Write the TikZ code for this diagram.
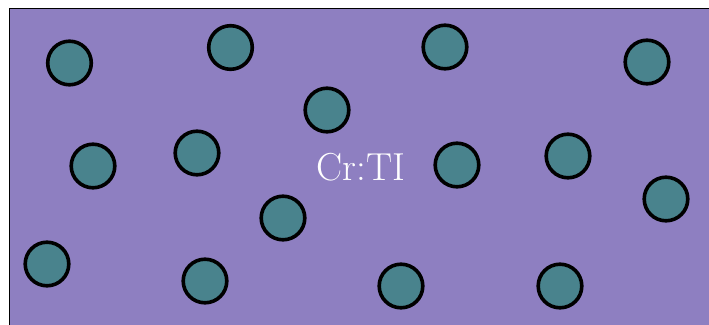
\documentclass[tikz,border=0pt]{standalone}
\definecolor{bgpurple}{RGB}{142,127,193}
\definecolor{dotteal}{RGB}{73,131,141}
\begin{document}
\begin{tikzpicture}[x=1pt,y=-1pt,
  dot/.style={circle,draw=black,fill=dotteal,line width=3.6pt,minimum size=43.6pt,inner sep=0pt},
  lbl/.style={text=white,font=\fontsize{39}{43}\selectfont,inner sep=0pt}]
\useasboundingbox (0,0) rectangle (709,324);
\clip (0,0) rectangle (709,324);
\draw[fill=bgpurple,draw=black,line width=1.6pt] (9.5,8.5) rectangle (730,340);
\node[dot] (c1) at (69.5,63) {};
\node[dot] (c2) at (230.5,47.5) {};
\node[dot] (c3) at (445,47) {};
\node[dot] (c4) at (647,62) {};
\node[dot] (c5) at (327,110) {};
\node[dot] (c6) at (93,166) {};
\node[dot] (c7) at (197,153) {};
\node[dot] (c8) at (457,165) {};
\node[dot] (c9) at (568,156) {};
\node[dot] (c10) at (666,199) {};
\node[dot] (c11) at (283,218) {};
\node[dot] (c12) at (47,264) {};
\node[dot] (c13) at (205,281) {};
\node[dot] (c14) at (401,286) {};
\node[dot] (c15) at (560,286) {};
\node[lbl] (t) at (361,167.5) {Cr:TI};
\end{tikzpicture}
\end{document}
